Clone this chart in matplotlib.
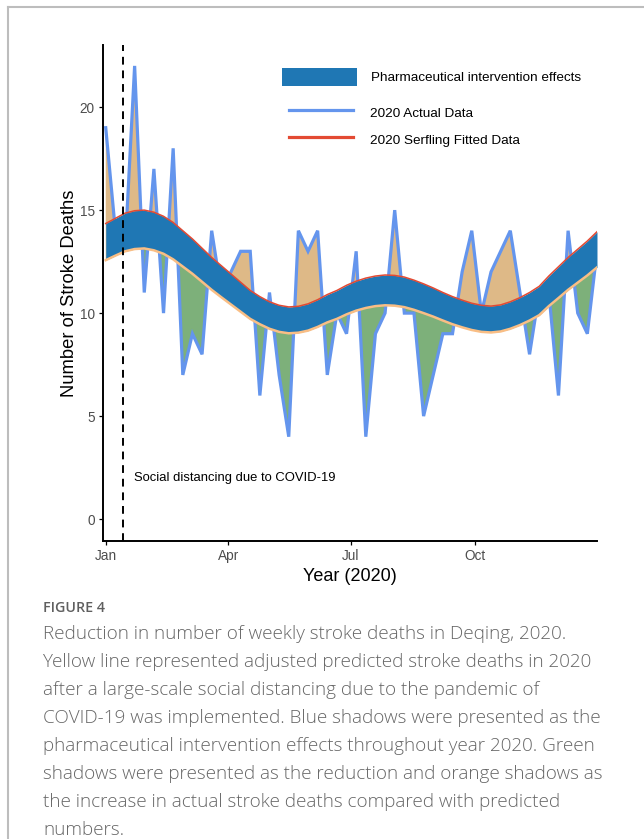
import numpy as np
import pandas as pd
import matplotlib
matplotlib.use("Agg")
import matplotlib.pyplot as plt
import matplotlib.dates as mdates
from matplotlib.patches import Patch
from matplotlib.lines import Line2D

# weekly data, 2020 (52 points spread over the year)
weeks = pd.date_range("2020-01-01", "2020-12-31", periods=52)
actual = [19, 14, 13, 22, 11, 17, 10, 18, 7, 9, 8, 14, 11, 12, 13, 13, 6, 11, 7, 4,
          14, 13, 14, 7, 10, 9, 13, 4, 9, 10, 15, 10, 10, 5, 7, 9, 9, 12, 14, 10,
          12, 13, 14, 11, 8, 11, 11, 6, 14, 10, 9, 13]
serfling = [14.35, 14.6, 14.85, 14.97, 15.0, 14.9, 14.7, 14.4, 14.0, 13.6, 13.15, 12.7, 12.3,
            11.9, 11.5, 11.1, 10.8, 10.55, 10.38, 10.3, 10.33, 10.45, 10.65, 10.9, 11.1, 11.35,
            11.55, 11.7, 11.8, 11.85, 11.83, 11.75, 11.6, 11.42, 11.22, 11.0, 10.8, 10.63, 10.48,
            10.38, 10.34, 10.4, 10.55, 10.75, 11.0, 11.3, 11.8, 12.25, 12.7, 13.1, 13.5, 13.95]
adjusted = [12.57, 12.79, 13.0, 13.11, 13.14, 13.05, 12.88, 12.61, 12.26, 11.91, 11.52, 11.13,
            10.77, 10.42, 10.07, 9.72, 9.46, 9.24, 9.09, 9.02, 9.05, 9.15, 9.33, 9.55, 9.72,
            9.94, 10.12, 10.25, 10.34, 10.38, 10.36, 10.29, 10.16, 10.0, 9.83, 9.64, 9.46, 9.31,
            9.18, 9.09, 9.06, 9.11, 9.24, 9.42, 9.64, 9.9, 10.34, 10.73, 11.13, 11.48, 11.83, 12.22]
distancing_date = pd.Timestamp("2020-01-14")

caption = [
    "Reduction in number of weekly stroke deaths in Deqing, 2020.",
    "Yellow line represented adjusted predicted stroke deaths in 2020",
    "after a large-scale social distancing due to the pandemic of",
    "COVID-19 was implemented. Blue shadows were presented as the",
    "pharmaceutical intervention effects throughout year 2020. Green",
    "shadows were presented as the reduction and orange shadows as",
    "the increase in actual stroke deaths compared with predicted",
    "numbers.",
]

plt.rcParams['font.family'] = ['Liberation Sans', 'DejaVu Sans']

a = np.array(actual, dtype=float)
lo = np.array(adjusted)
hi = np.array(serfling)

fig = plt.figure(figsize=(6.44, 8.39), dpi=100)
ax = fig.add_axes([0.160, 0.355, 0.767, 0.591])

# shaded differences
ax.fill_between(weeks, a, lo, where=a >= lo, interpolate=True, color='#DEB987', lw=0, zorder=1)
ax.fill_between(weeks, a, lo, where=a <= lo, interpolate=True, color='#7DB07A', lw=0, zorder=1)
ax.plot(weeks, a, color='#6495ED', lw=2.3, zorder=2, solid_joinstyle='miter')
# intervention band
ax.fill_between(weeks, lo, hi, color='#1F77B4', lw=0, zorder=3)
ax.plot(weeks, hi, color='#E34A33', lw=1.1, zorder=4)
ax.plot(weeks, lo, color='#F9BE85', lw=1.8, zorder=4)

ax.axvline(distancing_date, color='black', ls=(0, (4, 3)), lw=1.4, zorder=5)
ax.text(distancing_date + pd.Timedelta(days=8), 2.0, "Social distancing due to COVID-19",
        fontsize=9.4, va='center', ha='left')

ax.set_xlim(weeks[0] - pd.Timedelta(days=2), weeks[-1])
ax.set_ylim(-1.07, 23.0)
ax.set_yticks([0, 5, 10, 15, 20])
ax.xaxis.set_major_locator(mdates.MonthLocator(bymonth=[1, 4, 7, 10]))
ax.xaxis.set_major_formatter(mdates.DateFormatter('%b'))

for s in ['top', 'right']:
    ax.spines[s].set_visible(False)
for s in ['left', 'bottom']:
    ax.spines[s].set_linewidth(1.4)
ax.tick_params(length=3, width=0.9, labelsize=9.8, labelcolor='#4D4D4D', pad=3)
ax.set_xlabel("Year (2020)", fontsize=13, labelpad=3)
ax.set_ylabel("Number of Stroke Deaths", fontsize=13.2, labelpad=1)

# legend: band patch, then the two lines
leg1 = ax.legend(handles=[Patch(facecolor='#1F77B4', edgecolor='none',
                                label='Pharmaceutical intervention effects')],
                 loc='center left', bbox_to_anchor=(0.362, 0.936), frameon=False,
                 fontsize=9.7, handlelength=5.6, handleheight=1.75, handletextpad=1.0,
                 borderpad=0, borderaxespad=0)
ax.add_artist(leg1)
ax.legend(handles=[Line2D([], [], color='#6495ED', lw=2.3, label='2020 Actual Data'),
                   Line2D([], [], color='#E34A33', lw=2.3, label='2020 Serfling Fitted Data')],
          loc='center left', bbox_to_anchor=(0.376, 0.837), frameon=False,
          fontsize=9.7, handlelength=4.8, handleheight=1.8, labelspacing=0.62,
          handletextpad=1.25, borderpad=0, borderaxespad=0)

# caption
fig.text(43 / 644, 1 - 608 / 839, "FIGURE 4", fontsize=10.3, color='#5f5f5f',
         family=['Open Sans', 'DejaVu Sans'], fontweight='semibold', va='center')
for i, line in enumerate(caption):
    fig.text(43 / 644, 1 - (634 + 28 * i) / 839, line, fontsize=13.6, color='#666666',
             family=['Open Sans', 'DejaVu Sans'], fontweight='light', va='center')

# page frame
fig.add_artist(Line2D([8 / 644, 8 / 644], [0, 1 - 7 / 839], transform=fig.transFigure,
                      color='#bdbdbd', lw=1.5))
fig.add_artist(Line2D([8 / 644, 1], [1 - 7 / 839, 1 - 7 / 839], transform=fig.transFigure,
                      color='#bdbdbd', lw=1.5))

fig.savefig("out.png", dpi=100)
